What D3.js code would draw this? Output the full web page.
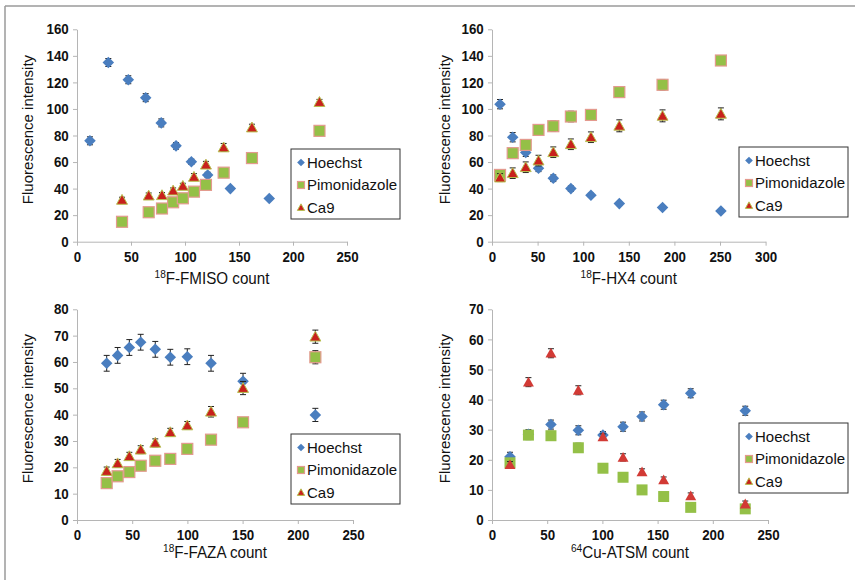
<!DOCTYPE html>
<html>
<head>
<meta charset="utf-8">
<script src="https://cdn.jsdelivr.net/npm/d3@7"></script>
<style>
  body { margin: 0; background: #fff; }
  svg text { fill: #111; }
</style>
</head>
<body>
<svg id="chart" width="855" height="580"></svg>
<script>
// ---- data ----
const seriesNames = ['Hoechst', 'Pimonidazole', 'Ca9']

// 18F-FMISO panel
const fmisoHoechstX = [12, 29, 47.5, 63.6, 78, 91.7, 105.9, 121, 142, 178]
const fmisoHoechst = [76, 135, 122, 108.5, 89.5, 72.2, 60.2, 50.3, 40, 32.5]
const fmisoHoechstErr = [3, 3, 3, 3, 3, 2.5, 2, 2, 1, 1]
const fmisoX = [41.7, 66.4, 78.7, 89, 98, 108.3, 119.4, 135.8, 162, 224.5]
const fmisoPimo = [15, 22.2, 25, 29.7, 32.7, 37.7, 42.8, 52, 63, 83.5]
const fmisoPimoErr = [1, 1, 1, 1, 1, 1, 1, 1.5, 1.5, 1.5]
const fmisoCa9 = [31.5, 34.7, 35, 38.5, 42, 48.8, 58, 71, 86, 105.2]
const fmisoCa9Err = [2, 2, 2, 2, 2, 2.5, 2.5, 3, 2.5, 2]

// 18F-HX4 panel
const hx4X = [8.8, 22.7, 37, 51, 67.2, 86.5, 108.5, 139.6, 187, 251]
const hx4Hoechst = [103.6, 78.7, 67.2, 55.3, 47.8, 40, 35, 28.7, 25.7, 23.2]
const hx4HoechstErr = [3.5, 3.5, 3, 2.5, 2.5, 2, 1.5, 1, 1, 1]
const hx4Pimo = [50.3, 66.7, 72.9, 84.2, 87, 94.3, 95.5, 112.7, 118.2, 136.5]
const hx4PimoErr = [3, 3.5, 4, 3.5, 4, 4, 4, 4, 4, 3]
const hx4Ca9 = [48.3, 51.6, 56.1, 61.1, 67.4, 73.4, 78.7, 87.3, 94.8, 96.3]
const hx4Ca9Err = [3, 4, 4, 4, 4, 4, 4, 4.5, 4.5, 4.5]

// 18F-FAZA panel
const fazaX = [26.9, 36.8, 47.4, 57.7, 70.9, 84.5, 99.9, 121.4, 150.4, 215.9]
const fazaHoechst = [59.5, 62.5, 65.5, 67.5, 64.8, 61.8, 62, 59.5, 52.7, 39.9]
const fazaHoechstErr = [3, 3, 3, 3, 3, 3, 3, 3, 3, 2.5]
const fazaPimo = [14, 16.6, 18.2, 20.6, 22.5, 23.2, 27, 30.5, 37.1, 61.8]
const fazaPimoErr = [1, 1, 1, 1, 1, 1, 1, 1, 1, 2.5]
const fazaCa9 = [18.6, 21.5, 24.2, 26.7, 29.3, 33.3, 35.9, 41.1, 50.1, 69.6]
const fazaCa9Err = [1.5, 1.5, 1.5, 1.5, 1.5, 1.5, 1.5, 2, 2.5, 2.5]

// 64Cu-ATSM panel
const atsmX = [16.3, 33, 53.4, 78.2, 100.5, 118.7, 135.9, 155.5, 180, 229.4]
const atsmHoechst = [21, 28.5, 31.7, 29.8, 28.2, 31, 34.4, 38.3, 42.1, 36.3]
const atsmHoechstErr = [1.5, 1.5, 1.5, 1.5, 1.2, 1.5, 1.5, 1.5, 1.5, 1.5]
const atsmPimo = [19, 28.2, 28, 24, 17.2, 14.2, 10, 7.8, 4.2, 3.7]
const atsmPimoErr = [1, 1.5, 1.5, 1.5, 1, 0.8, 0.6, 0.6, 0.5, 0.5]
const atsmCa9 = [18.4, 45.8, 55.4, 43.1, 27.6, 20.8, 16, 13.3, 8, 5.3]
const atsmCa9Err = [1, 1.5, 1.5, 1.5, 1, 1.2, 1, 1, 1, 1]

const ticksY1 = [0, 20, 40, 60, 80, 100, 120, 140, 160]
const ticksY3 = [0, 10, 20, 30, 40, 50, 60, 70, 80]
const ticksY4 = [0, 10, 20, 30, 40, 50, 60, 70]
const ticksX250 = [0, 50, 100, 150, 200, 250]
const ticksX300 = [0, 50, 100, 150, 200, 250, 300]

// ---- layout ----
const panels = [
  {iso: '18', name: 'F-FMISO count', x0: 77, x1: 347, y0: 241.7, y1: 29.3, xt: ticksX250, yt: ticksY1,
   xs: [fmisoHoechstX, fmisoX, fmisoX], ys: [fmisoHoechst, fmisoPimo, fmisoCa9], es: [fmisoHoechstErr, fmisoPimoErr, fmisoCa9Err],
   legend: [291, 149], titleX: 28, xTitleY: 284, edged: true},
  {iso: '18', name: 'F-HX4 count', x0: 492, x1: 765.6, y0: 241.7, y1: 29.3, xt: ticksX300, yt: ticksY1,
   xs: [hx4X, hx4X, hx4X], ys: [hx4Hoechst, hx4Pimo, hx4Ca9], es: [hx4HoechstErr, hx4PimoErr, hx4Ca9Err],
   legend: [739, 147], titleX: 445, xTitleY: 284, edged: true},
  {iso: '18', name: 'F-FAZA count', x0: 77, x1: 353, y0: 520, y1: 309.3, xt: ticksX250, yt: ticksY3,
   xs: [fazaX, fazaX, fazaX], ys: [fazaHoechst, fazaPimo, fazaCa9], es: [fazaHoechstErr, fazaPimoErr, fazaCa9Err],
   legend: [291, 434], titleX: 28, xTitleY: 558, edged: true},
  {iso: '64', name: 'Cu-ATSM count', x0: 492, x1: 768, y0: 520, y1: 309.3, xt: ticksX250, yt: ticksY4,
   xs: [atsmX, atsmX, atsmX], ys: [atsmHoechst, atsmPimo, atsmCa9], es: [atsmHoechstErr, atsmPimoErr, atsmCa9Err],
   legend: [739, 423], titleX: 445, xTitleY: 558, edged: false}
]

const sans = '"Liberation Sans", Arial, sans-serif'

const svg = d3.select('#chart')

// outer frame (cut at right and bottom)
svg.append('line').attr('x1', 5).attr('x2', 855).attr('y1', 6).attr('y2', 6)
  .attr('stroke', '#9a9a9a').attr('stroke-width', 1.5)
svg.append('line').attr('x1', 5).attr('x2', 5).attr('y1', 6).attr('y2', 580)
  .attr('stroke', '#9a9a9a').attr('stroke-width', 1.5)

function drawMarker(g, kind, size, edged) {
  if (kind === 0) {
    const s = size * 0.55
    g.append('path').attr('d', `M0,${-s}L${s},0L0,${s}L${-s},0Z`).attr('fill', '#4a7ebf')
  } else if (kind === 1) {
    const s = size * 0.5
    g.append('rect').attr('x', -s).attr('y', -s).attr('width', 2 * s).attr('height', 2 * s)
      .attr('fill', '#94c047').attr('stroke', edged ? '#e39a8e' : 'none').attr('stroke-width', 1.2)
  } else {
    const s = size * 0.52
    g.append('path').attr('d', `M0,${-s}L${s},${s * 0.8}L${-s},${s * 0.8}Z`)
      .attr('fill', edged ? '#c8211c' : '#d23a35')
      .attr('stroke', edged ? '#b7c050' : 'none').attr('stroke-width', 1)
  }
}

panels.forEach(p => {
  const x = d3.scaleLinear().domain([0, p.xt[p.xt.length - 1]]).range([p.x0, p.x1])
  const y = d3.scaleLinear().domain([0, p.yt[p.yt.length - 1]]).range([p.y0, p.y1])
  const g = svg.append('g')

  const ya = g.append('g').attr('transform', `translate(${p.x0},0)`)
    .call(d3.axisLeft(y).tickValues(p.yt).tickSize(4).tickSizeOuter(0).tickPadding(5))
  const xa = g.append('g').attr('transform', `translate(0,${p.y0})`)
    .call(d3.axisBottom(x).tickValues(p.xt).tickSize(4).tickSizeOuter(0).tickPadding(6))
  ;[ya, xa].forEach(a => {
    a.select('.domain').attr('stroke', '#b5b5b5')
    a.selectAll('.tick line').attr('stroke', '#b5b5b5')
    // slightly narrow bold look of the original labels
    a.selectAll('.tick text').attr('font-family', sans).attr('font-size', 14.5)
      .attr('font-weight', 'bold').attr('fill', '#111').attr('transform', 'scale(0.92,1)')
  })

  // y title
  g.append('text').attr('transform', `translate(${p.titleX},${(p.y0 + p.y1) / 2 - 6}) rotate(-90)`)
    .attr('text-anchor', 'middle').attr('dy', '0.35em')
    .attr('font-family', sans).attr('font-size', 15).text('Fluorescence intensity')

  // x title with superscript isotope, squeezed horizontally
  const xt = g.append('text')
    .attr('transform', `translate(${(p.x0 + p.x1) / 2},${p.xTitleY}) scale(0.92,1)`)
    .attr('text-anchor', 'middle').attr('font-family', sans).attr('font-size', 16.5)
  xt.append('tspan').attr('font-size', 11).attr('dy', -6).text(p.iso)
  xt.append('tspan').attr('dy', 6).text(p.name)

  // error bars then markers, series by series
  p.ys.forEach((vals, si) => {
    const xsv = p.xs[si]
    const errs = p.es[si]
    const sg = g.append('g')
    vals.forEach((v, i) => {
      const cx = x(xsv[i]), top = y(v + errs[i]), bot = y(v - errs[i])
      sg.append('line').attr('x1', cx).attr('x2', cx).attr('y1', top).attr('y2', bot)
        .attr('stroke', '#222').attr('stroke-width', 1)
      ;[top, bot].forEach(yy => sg.append('line').attr('x1', cx - 3).attr('x2', cx + 3)
        .attr('y1', yy).attr('y2', yy).attr('stroke', '#222').attr('stroke-width', 1))
    })
    vals.forEach((v, i) => {
      const m = sg.append('g').attr('transform', `translate(${x(xsv[i])},${y(v)})`)
      drawMarker(m, si, si === 1 ? 11 : 10.5, p.edged)
    })
  })

  // legend
  const lg = g.append('g').attr('transform', `translate(${p.legend[0]},${p.legend[1]})`)
  lg.append('rect').attr('width', 109).attr('height', 70).attr('fill', '#fff')
    .attr('stroke', '#333').attr('stroke-width', 1)
  seriesNames.forEach((n, i) => {
    const yy = 13.5 + i * 22.5
    const m = lg.append('g').attr('transform', `translate(10,${yy})`)
    drawMarker(m, i, 7, true)
    lg.append('text').attr('x', 16).attr('y', yy).attr('dy', '0.36em')
      .attr('font-family', sans).attr('font-size', 15).text(n)
  })
})
</script>
</body>
</html>
